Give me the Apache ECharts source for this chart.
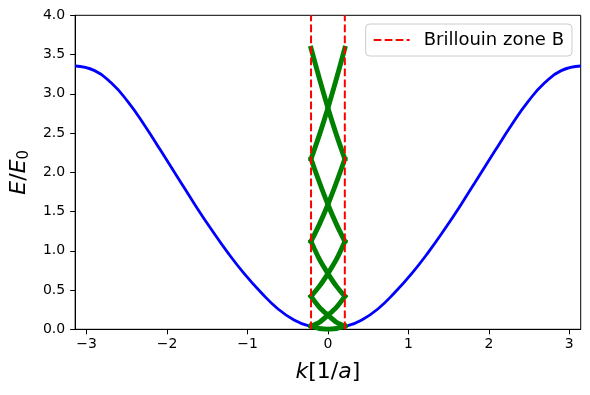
<!DOCTYPE html>
<html><head><meta charset="utf-8">
<script src="https://cdn.jsdelivr.net/npm/echarts@6/dist/echarts.min.js"></script>
<style>html,body{margin:0;padding:0;background:#fff}#c{width:590px;height:395px}</style>
</head><body><div id="c"></div>
<script>
// Blue dispersion curve
const blueK = [-3.1416,-2.90,-2.694,-2.487,-2.28,-2.074,-1.867,-1.661,-1.454,-1.247,-1.041,-0.834,-0.627,-0.421,-0.235,0,
               0.235,0.421,0.627,0.834,1.041,1.247,1.454,1.661,1.867,2.074,2.28,2.487,2.694,2.90,3.1416];
const blueE = [3.354,3.295,3.14,2.90,2.60,2.27,1.935,1.60,1.28,0.98,0.71,0.472,0.265,0.118,0.042,0,
               0.042,0.118,0.265,0.472,0.71,0.98,1.28,1.60,1.935,2.27,2.60,2.90,3.14,3.295,3.354];
// Folded bands inside the zone
const bandK   = [-0.21,-0.105,0,0.105,0.21];
const band0   = [0.04,0.01,0,0.01,0.04];
const bandUp1 = [0.04,0.09,0.18,0.28,0.42];
const bandDn1 = [0.42,0.28,0.18,0.09,0.04];
const bandUp2 = [0.42,0.55,0.71,0.89,1.12];
const bandDn2 = [1.12,0.89,0.71,0.55,0.42];
const bandUp3 = [1.12,1.34,1.59,1.87,2.17];
const bandDn3 = [2.17,1.87,1.59,1.34,1.12];
const bandUp4 = [2.17,2.48,2.82,3.19,3.58];
const bandDn4 = [3.58,3.19,2.82,2.48,2.17];
const greenBands = [band0,bandUp1,bandDn1,bandUp2,bandDn2,bandUp3,bandDn3,bandUp4,bandDn4];
// Zone edges
const zoneEdges = [-0.21, 0.21];
const zoneName = 'Brillouin zone B';
const xTicks = [-3,-2,-1,0,1,2,3];
const yMin = 0, yMax = 4, yStep = 0.5;

const FONT = 'DejaVu Sans';
const chart = echarts.init(document.getElementById('c'), null, {renderer:'canvas'});
const series = [];
series.push({
  type:'line', name:'dispersion', data: blueK.map((k,i)=>[k,blueE[i]]),
  smooth:0.5, symbol:'none', lineStyle:{color:'#0000ff', width:2.8}, z:2
});
greenBands.forEach((b,j)=>{
  series.push({type:'line', name:'band'+j, data: bandK.map((k,i)=>[k,b[i]]),
    smooth:0.3, symbol:'none', lineStyle:{color:'#008000', width:4.9, cap:'square'}, z:3});
});
zoneEdges.forEach(x=>{
  series.push({type:'line', name:zoneName, data:[[x,yMin],[x,yMax]], symbol:'none',
    lineStyle:{color:'#ff0000', width:2, type:[7.7,3.3]}, itemStyle:{color:'#ff0000'}, z:4});
});
const minus = v => String(v).replace('-', '\u2212');
const dashIcon = 'path://M0,0h7.7v2h-7.7z M11,0h7.7v2h-7.7z M22,0h7.7v2h-7.7z M33,0h3v2h-3z';
chart.setOption({
  animation:false,
  grid:{left:73.5, right:9.3, top:15.3, bottom:65.7, show:true, borderColor:'#000', borderWidth:1, backgroundColor:'transparent'},
  legend:{
    data:[{name:zoneName, icon:dashIcon, itemStyle:{color:'#ff0000'}}],
    right:18, top:24, padding:[7,8,7,8],
    backgroundColor:'#fff', borderColor:'#cccccc', borderWidth:1, borderRadius:4,
    itemWidth:36, itemHeight:2,
    formatter: n => '{g|}{t|' + n + '}',
    textStyle:{fontFamily:FONT, fontSize:18, color:'#000',
      rich:{g:{width:9}, t:{fontFamily:FONT, fontSize:18, color:'#000'}}}
  },
  xAxis:{
    type:'value', min:-Math.PI, max:Math.PI,
    name:'{i|k}{n|[1/}{i|a}{n|]}', nameLocation:'middle', nameGap:32,
    nameTextStyle:{fontFamily:FONT, fontSize:22, color:'#000',
      rich:{i:{fontFamily:FONT, fontSize:22, fontStyle:'italic', color:'#000'}, n:{fontFamily:FONT, fontSize:22, color:'#000'}}},
    axisLine:{show:true, onZero:false, lineStyle:{color:'#000', width:1}},
    axisTick:{show:true, length:5, customValues:xTicks, lineStyle:{color:'#000'}},
    axisLabel:{customValues:xTicks, formatter:minus, fontFamily:FONT, fontSize:14, color:'#000', margin:8},
    splitLine:{show:false}
  },
  yAxis:{
    type:'value', min:yMin, max:yMax, interval:yStep,
    name:'{i|E}{n|/}{i|E}{s|0}', nameLocation:'middle', nameGap:35,
    nameTextStyle:{fontFamily:FONT, fontSize:22, color:'#000',
      rich:{i:{fontFamily:FONT, fontSize:22, fontStyle:'italic', color:'#000', lineHeight:26},
            n:{fontFamily:FONT, fontSize:22, color:'#000', lineHeight:26},
            s:{fontFamily:FONT, fontSize:15, color:'#000', lineHeight:15, verticalAlign:'bottom'}}},
    axisLine:{show:true, onZero:false, lineStyle:{color:'#000', width:1}},
    axisTick:{show:true, length:5, lineStyle:{color:'#000'}},
    axisLabel:{formatter:v=>v.toFixed(1), fontFamily:FONT, fontSize:14, color:'#000', margin:10},
    splitLine:{show:false}
  },
  series
});
</script></body></html>
